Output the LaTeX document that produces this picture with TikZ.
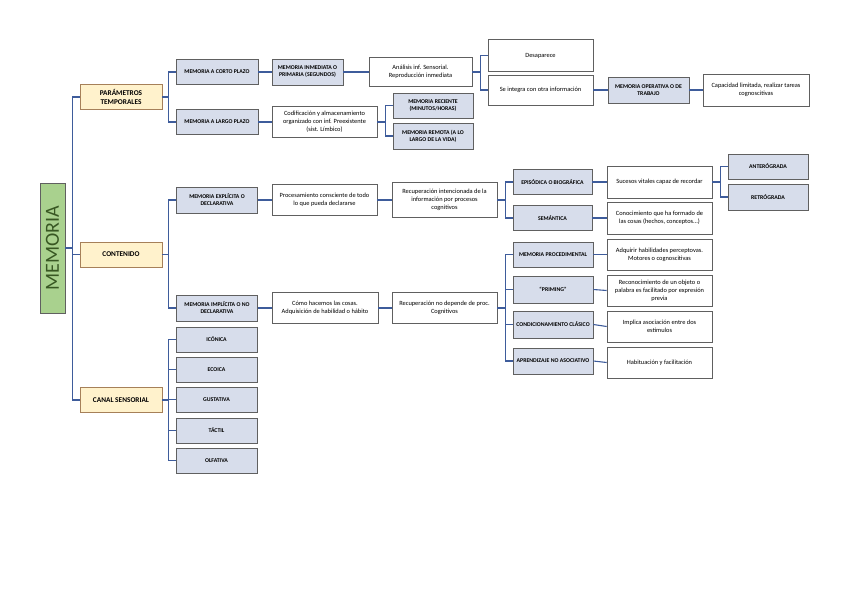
\documentclass[tikz,border=0pt]{standalone}
\usepackage{fontspec}
\setmainfont{Carlito}
\definecolor{greyblue}{RGB}{215,221,235}
\definecolor{sandfill}{RGB}{255,242,204}
\definecolor{leafgreen}{RGB}{169,209,142}
\definecolor{darkleaf}{RGB}{56,87,35}
\definecolor{linkblue}{RGB}{62,92,155}
\tikzset{
  box/.style={draw=gray!75!black, line width=0.6pt, inner sep=1pt, align=center},
  topic/.style={box, draw=brown!60!gray, fill=sandfill, minimum width=82pt, minimum height=25pt, font=\fontsize{7.3}{8.5}\selectfont\bfseries},
  kind/.style={box, fill=greyblue, minimum width=80pt, minimum height=25pt, font=\fontsize{5.8}{7}\selectfont\bfseries},
  note/.style={box, fill=white, minimum width=105pt, minimum height=31pt, font=\fontsize{6.4}{7.8}\selectfont},
  link/.style={draw=linkblue, line width=1.1pt},
}
\begin{document}
\begin{tikzpicture}[x=1pt,y=-1pt]
\useasboundingbox (0,0) rectangle (848,599);

\node[box, fill=leafgreen, minimum width=25pt, minimum height=130pt] (mem) at (52.5,248) {};
\node[rotate=90, text=darkleaf, font=\fontsize{20}{20}\selectfont] (memtxt) at (mem) {MEMORIA};

\node[topic] (par) at (121,97) {PARÁMETROS\\TEMPORALES};
\node[topic] (con) at (121,254.5) {CONTENIDO};
\node[topic] (can) at (121,400) {CANAL SENSORIAL};

% parametros temporales
\node[kind, minimum width=82pt] (corto) at (217,72) {MEMORIA A CORTO PLAZO};
\node[kind, minimum width=82pt] (largo) at (217,122) {MEMORIA A LARGO PLAZO};
\node[kind, minimum width=71pt, minimum height=26pt] (inm) at (307.5,72) {MEMORIA INMEDIATA O\\PRIMARIA (SEGUNDOS)};
\node[note, minimum width=103pt, minimum height=29pt] (ana) at (420.5,72) {Análisis inf. Sensorial.\\Reproducción inmediata};
\node[note, minimum height=32pt] (des) at (540.5,55.5) {Desaparece};
\node[note, minimum height=30pt] (sei) at (540.5,90) {Se integra con otra información};
\node[kind, minimum width=81pt, minimum height=26pt] (ope) at (648.5,90) {MEMORIA OPERATIVA O DE\\TRABAJO};
\node[note, minimum width=106pt, minimum height=32pt] (cap) at (756,90) {Capacidad limitada, realizar tareas\\cognoscitivas};
\node[note] (cod) at (324.5,122) {Codificación y almacenamiento\\organizado con inf. Preexistente\\(sist. Límbico)};
\node[kind] (rec) at (433,105.5) {MEMORIA RECIENTE\\(MINUTOS/HORAS)};
\node[kind, minimum height=26pt] (rem) at (433,136) {MEMORIA REMOTA (A LO\\LARGO DE LA VIDA)};

% contenido
\node[kind, minimum width=81pt, minimum height=26pt] (exp) at (217,200) {MEMORIA EXPLÍCITA O\\DECLARATIVA};
\node[note] (pro) at (324.5,200) {Procesamiento consciente de todo\\lo que pueda declararse};
\node[note, minimum height=35pt] (rin) at (444.5,200) {Recuperación intencionada de la\\información por procesos\\cognitivos};
\node[kind, minimum width=79pt] (epi) at (552.5,182) {EPISÓDICA O BIOGRÁFICA};
\node[kind, minimum width=79pt] (sem) at (552.5,218) {SEMÁNTICA};
\node[note, minimum height=32pt] (suc) at (659.5,182) {Sucesos vitales capaz de recordar};
\node[note, minimum height=32pt] (cnc) at (659.5,218) {Conocimiento que ha formado de\\las cosas (hechos, conceptos...)};
\node[kind] (ant) at (768,166.5) {ANTERÓGRADA};
\node[kind, minimum height=26pt] (ret) at (768,197) {RETRÓGRADA};

\node[kind, minimum width=81pt, minimum height=26pt] (imp) at (217,308) {MEMORIA IMPLÍCITA O NO\\DECLARATIVA};
\node[note, minimum width=106pt] (com) at (325,308) {Cómo hacemos las cosas.\\Adquisición de habilidad o hábito};
\node[note] (rnd) at (444.5,308) {Recuperación no depende de proc.\\Cognitivos};
\node[kind] (pcd) at (553,254.5) {MEMORIA PROCEDIMENTAL};
\node[kind, minimum height=27pt] (pri) at (553,289.5) {“PRIMING”};
\node[kind, minimum height=27pt] (cla) at (553,324.5) {CONDICIONAMIENTO CLÁSICO};
\node[kind, minimum height=26pt] (apr) at (553,361) {APRENDIZAJE NO ASOCIATIVO};
\node[note] (adq) at (659.5,254.5) {Adquirir habilidades perceptovas.\\Motores o cognoscitivas};
\node[note] (rco) at (659.5,290.5) {Reconocimiento de un objeto o\\palabra es facilitado por expresión\\previa};
\node[note] (imc) at (659.5,326.5) {Implica asociación entre dos\\estímulos};
\node[note] (hab) at (659.5,362.5) {Habituación y facilitación};

% canal sensorial
\node[kind, minimum width=81pt] (ico) at (216.5,339.5) {ICÓNICA};
\node[kind, minimum width=81pt] (eco) at (216.5,369.5) {ECOICA};
\node[kind, minimum width=81pt] (gus) at (216.5,399.5) {GUSTATIVA};
\node[kind, minimum width=81pt] (tac) at (216.5,430.5) {TÁCTIL};
\node[kind, minimum width=81pt] (olf) at (216.5,460.5) {OLFATIVA};

\foreach \t in {par,con,can} \draw[link] (mem.east) -- ++(7.5,0) |- (\t.west);
\foreach \t in {corto,largo} \draw[link] (par.east) -- ++(6.5,0) |- (\t.west);
\foreach \t in {exp,imp} \draw[link] (con.east) -- ++(6.5,0) |- (\t.west);
\foreach \t in {ico,eco,gus,tac,olf} \draw[link] (can.east) -- ++(6.5,0) |- (\t.west);
\foreach \t in {des,sei} \draw[link] (ana.east) -- ++(8,0) |- (\t.west);
\foreach \t in {rec,rem} \draw[link] (cod.east) -- ++(8,0) |- (\t.west);
\foreach \t in {epi,sem} \draw[link] (rin.east) -- ++(8,0) |- (\t.west);
\foreach \t in {ant,ret} \draw[link] (suc.east) -- ++(8,0) |- (\t.west);
\foreach \t in {pcd,pri,cla,apr} \draw[link] (rnd.east) -- ++(8,0) |- (\t.west);
\foreach \a/\b in {corto/inm,inm/ana,sei/ope,ope/cap,largo/cod,exp/pro,pro/rin,epi/suc,sem/cnc,imp/com,com/rnd,pcd/adq,pri/rco,cla/imc,apr/hab}
  \draw[link] (\a.east) -- (\b.west);

\end{tikzpicture}
\end{document}
